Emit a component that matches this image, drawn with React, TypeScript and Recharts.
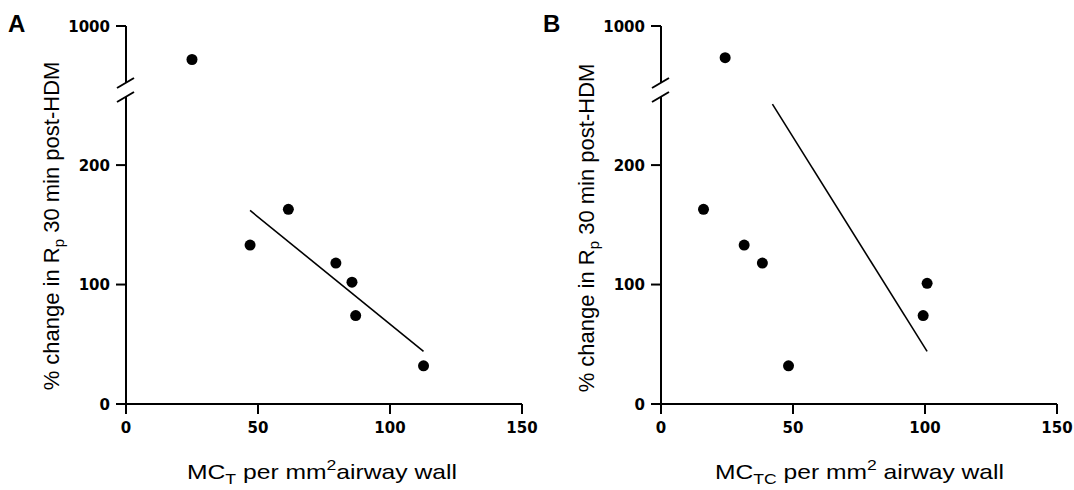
import React from "react";
import { ScatterChart, Scatter, XAxis, YAxis, ReferenceLine } from "recharts";

// shared axis setup
const xTicks = [0, 50, 100, 150];
const lowerTicks = [0, 100, 200];
const upperTicks = [1000];
const xDomain = [0, 150];
const lowerDomain = [0, 257];
const upperDomain = [600, 1000];

// panel A: MC_T per mm2 airway wall vs % change in Rp
const mctLow = [
  { x: 47.0, y: 133 },
  { x: 61.5, y: 163 },
  { x: 79.5, y: 118 },
  { x: 85.6, y: 102 },
  { x: 87.0, y: 74 },
  { x: 112.7, y: 32 },
];
const mctHigh = [{ x: 25.0, y: 765 }];
const mctFit = [
  { x: 47.0, y: 162 },
  { x: 112.7, y: 44 },
];

// panel B: MC_TC per mm2 airway wall
const mctcLow = [
  { x: 16.1, y: 163 },
  { x: 31.5, y: 133 },
  { x: 38.4, y: 118 },
  { x: 48.3, y: 32 },
  { x: 100.8, y: 101 },
  { x: 99.3, y: 74 },
];
const mctcHigh = [{ x: 24.3, y: 778 }];
const mctcFit = [
  { x: 42.2, y: 251 },
  { x: 100.8, y: 44 },
];

const W = 540;
const H = 490;
const Y_AXIS_W = 60;
const PLOT_L = 126;
const PLOT_R = 18;
const UP_TOP = 26;
const UP_BOT = 83;
const LOW_TOP = 97;
const LOW_BOT = 404;
const X_AXIS_H = 30;

const axisLine = { stroke: "#000", strokeWidth: 2 };
const font = "'Liberation Sans', Arial, sans-serif";

const Dot = (props: any) => <circle cx={props.cx} cy={props.cy} r={5.5} fill="#000" />;

const XTick = ({ x, y, payload }: any) => (
  <text x={x} y={y + 11} textAnchor="middle" fontFamily="DejaVu Sans" fontWeight={700} fontSize={15} fill="#000">
    {payload.value}
  </text>
);

const YTick = ({ x, y, payload }: any) => (
  <text x={x} y={y + 5.5} textAnchor="end" fontFamily="DejaVu Sans" fontWeight={700} fontSize={15} fill="#000">
    {payload.value}
  </text>
);

function Panel({ left, letter, low, high, fit, sub, gap, labelW, labelX, titleY }: any) {
  return (
    <div style={{ position: "absolute", left, top: 0, width: W, height: H }}>
      <div style={{ position: "absolute", left: 0, top: 0 }}>
        <ScatterChart
          width={W}
          height={UP_BOT + 7}
          margin={{ top: UP_TOP, right: PLOT_R, bottom: 7, left: PLOT_L - Y_AXIS_W }}
        >
          <XAxis type="number" dataKey="x" domain={xDomain} hide />
          <YAxis
            type="number" dataKey="y" domain={upperDomain} ticks={upperTicks}
            width={Y_AXIS_W} tickSize={10} tickMargin={6} tick={<YTick />}
            axisLine={axisLine} tickLine={axisLine}
          />
          <Scatter data={high} shape={Dot} isAnimationActive={false} />
        </ScatterChart>
      </div>
      <div style={{ position: "absolute", left: 0, top: 0 }}>
        <ScatterChart
          width={W}
          height={H}
          margin={{ top: LOW_TOP, right: PLOT_R, bottom: H - LOW_BOT - X_AXIS_H, left: PLOT_L - Y_AXIS_W }}
        >
          <XAxis
            type="number" dataKey="x" domain={xDomain} ticks={xTicks} interval={0}
            height={X_AXIS_H} tickSize={10} tickMargin={8} tick={<XTick />}
            axisLine={axisLine} tickLine={axisLine}
          />
          <YAxis
            type="number" dataKey="y" domain={lowerDomain} ticks={lowerTicks} interval={0}
            width={Y_AXIS_W} tickSize={10} tickMargin={6} tick={<YTick />}
            axisLine={axisLine} tickLine={axisLine}
          />
          <ReferenceLine segment={fit} stroke="#000" strokeWidth={1.6} ifOverflow="visible" />
          <Scatter data={low} shape={Dot} isAnimationActive={false} />
        </ScatterChart>
      </div>
      <svg width={W} height={H} style={{ position: "absolute", left: 0, top: 0, pointerEvents: "none" }}>
        {/* axis break */}
        <line x1={117} y1={88} x2={134} y2={78} stroke="#000" strokeWidth={2} />
        <line x1={117} y1={102} x2={134} y2={92} stroke="#000" strokeWidth={2} />
        <text x={8} y={32} fontFamily={font} fontWeight={700} fontSize={24} fill="#000">{letter}</text>
        <text
          x={58.6} y={titleY} transform={`rotate(-90 58.6 ${titleY})`} textAnchor="middle"
          fontFamily={font} fontSize={22} fill="#000"
        >
          % change in R<tspan fontSize={15} dy={5}>p</tspan>
          <tspan dy={-5}> 30 min post-HDM</tspan>
        </text>
        <text
          x={labelX} y={479} textAnchor="middle" fontFamily={font} fontSize={21} fill="#000"
          textLength={labelW} lengthAdjust="spacingAndGlyphs"
        >
          MC<tspan fontSize={15} dy={5}>{sub}</tspan>
          <tspan dy={-5}> per mm</tspan>
          <tspan fontSize={15} dy={-9}>2</tspan>
          <tspan dy={9}>{gap}airway wall</tspan>
        </text>
      </svg>
    </div>
  );
}

export default function App() {
  return (
    <div style={{ position: "absolute", left: 0, top: 0, width: 1074, height: 490, background: "#fff", overflow: "hidden" }}>
      <Panel left={0} letter="A" low={mctLow} high={mctHigh} fit={mctFit} sub="T" gap="" labelW={270} labelX={322} titleY={226} />
      <Panel left={535} letter="B" low={mctcLow} high={mctcHigh} fit={mctcFit} sub="TC" gap=" " labelW={289} labelX={324.5} titleY={228} />
    </div>
  );
}
